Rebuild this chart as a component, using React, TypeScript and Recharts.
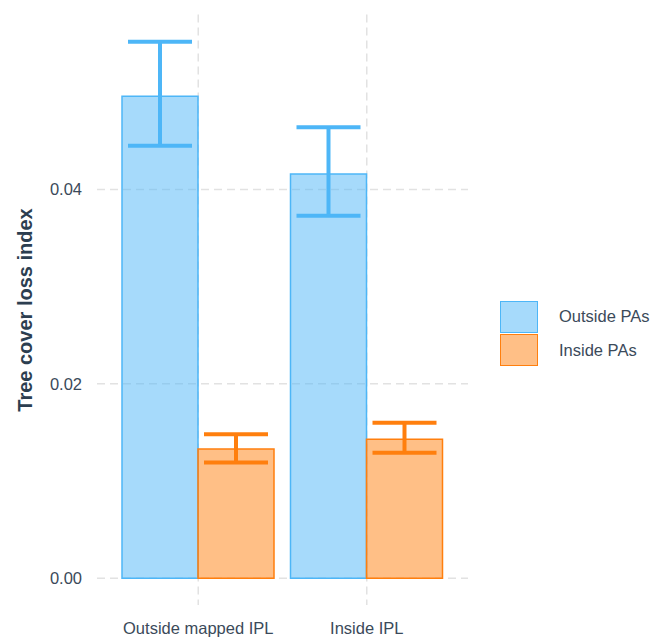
import React from "react";
import { BarChart, Bar, XAxis, YAxis, CartesianGrid, ErrorBar, Legend } from "recharts";

const categories = ["Outside mapped IPL", "Inside IPL"];

const outsideMean = [0.0496, 0.0416];
const outsideLower = [0.0445, 0.0373];
const outsideUpper = [0.0552, 0.0464];

const insideMean = [0.0133, 0.0143];
const insideLower = [0.0119, 0.0129];
const insideUpper = [0.0148, 0.016];

const yTicks = [0, 0.02, 0.04];

const BLUE = "#4db6f7";
const ORANGE = "#ff7f0e";
const TEXT = "#3b4a5a";
const FONT = "'Liberation Sans', Arial, sans-serif";

const data = categories.map((name, i) => ({
  name,
  outside: outsideMean[i],
  outsideErr: [outsideMean[i] - outsideLower[i], outsideUpper[i] - outsideMean[i]],
  inside: insideMean[i],
  insideErr: [insideMean[i] - insideLower[i], insideUpper[i] - insideMean[i]],
}));

const legendItems = [
  { label: "Outside PAs", color: BLUE },
  { label: "Inside PAs", color: ORANGE },
];

function LegendBox() {
  return (
    <div style={{ fontFamily: FONT, fontSize: 16.5, color: TEXT }}>
      {legendItems.map((item) => (
        <div
          key={item.label}
          style={{ display: "flex", alignItems: "center", height: 33.5 }}
        >
          <div
            style={{
              width: 36,
              height: 30,
              border: `1.5px solid ${item.color}`,
              background: item.color + "80",
            }}
          />
          <span style={{ marginLeft: 21 }}>{item.label}</span>
        </div>
      ))}
    </div>
  );
}

export default function App() {
  return (
    <div style={{ position: "absolute", left: 0, top: 0, background: "#fff" }}>
      <BarChart
        width={666}
        height={637}
        data={data}
        margin={{ top: 14.5, right: 198, bottom: 0, left: 0 }}
        barCategoryGap={8}
        barGap={0}
      >
        <CartesianGrid
          stroke="#e2e2e2"
          strokeWidth={1.5}
          strokeDasharray="8 5"
          syncWithTicks
        />
        <XAxis
          dataKey="name"
          height={32}
          padding={{ left: 17, right: 17 }}
          axisLine={false}
          tickLine={false}
          tickSize={0}
          tickMargin={17}
          tick={{ fill: TEXT, fontSize: 16.5, fontFamily: FONT }}
        />
        <YAxis
          width={97}
          type="number"
          domain={[-0.00276, 0.058]}
          ticks={yTicks}
          tickFormatter={(v: number) => v.toFixed(2)}
          axisLine={false}
          tickLine={false}
          tickSize={0}
          tickMargin={15}
          tick={{ fill: TEXT, fontSize: 16.5, fontFamily: FONT }}
          label={{
            content: () => (
              <text
                x={32}
                y={310}
                transform="rotate(-90 32 310)"
                textAnchor="middle"
                fill="#2c3e50"
                fontSize={20}
                fontWeight="bold"
                fontFamily={FONT}
              >
                Tree cover loss index
              </text>
            ),
          }}
        />
        <Legend
          layout="horizontal"
          verticalAlign="middle"
          wrapperStyle={{ left: 500, top: 300, width: 166 }}
          content={() => <LegendBox />}
        />
        <Bar
          dataKey="outside"
          name="Outside PAs"
          fill={BLUE}
          fillOpacity={0.5}
          stroke={BLUE}
          strokeWidth={1.5}
          isAnimationActive={false}
        >
          <ErrorBar dataKey="outsideErr" width={32} stroke={BLUE} strokeWidth={4} direction="y" />
        </Bar>
        <Bar
          dataKey="inside"
          name="Inside PAs"
          fill={ORANGE}
          fillOpacity={0.5}
          stroke={ORANGE}
          strokeWidth={1.5}
          isAnimationActive={false}
        >
          <ErrorBar dataKey="insideErr" width={32} stroke={ORANGE} strokeWidth={4} direction="y" />
        </Bar>
      </BarChart>
    </div>
  );
}
